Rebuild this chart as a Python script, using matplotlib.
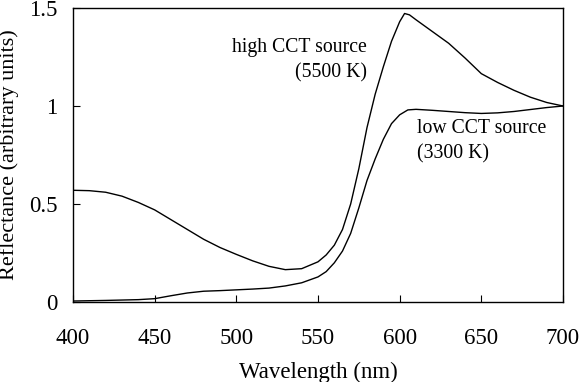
import matplotlib
matplotlib.use("Agg")
import matplotlib.pyplot as plt

plt.rcParams["font.family"] = ["Liberation Serif", "DejaVu Serif"]

# ── Data ──────────────────────────────────────────────────────────────────────
wl_high = [400, 410, 420, 430, 440, 450, 460, 470, 480, 490, 500, 510, 520,
           530, 540, 550, 555, 560, 565, 570, 575, 580, 585, 590, 595, 600,
           603, 606, 610, 620, 630, 640, 650, 660, 670, 680, 690, 700]
refl_high = [0.570, 0.568, 0.560, 0.540, 0.508, 0.470, 0.420, 0.370, 0.320,
             0.278, 0.243, 0.210, 0.182, 0.165, 0.170, 0.205, 0.240, 0.290,
             0.370, 0.500, 0.680, 0.890, 1.060, 1.200, 1.330, 1.430, 1.472,
             1.465, 1.440, 1.380, 1.320, 1.245, 1.165, 1.120, 1.080, 1.045,
             1.018, 1.000]

wl_low = [400, 420, 440, 450, 460, 470, 480, 490, 500, 510, 520, 530, 540,
          550, 555, 560, 565, 570, 575, 580, 585, 590, 595, 600, 605, 610,
          620, 630, 640, 650, 660, 670, 680, 690, 700]
refl_low = [0.005, 0.008, 0.012, 0.017, 0.032, 0.046, 0.055, 0.058, 0.062,
            0.066, 0.071, 0.082, 0.098, 0.128, 0.155, 0.200, 0.260, 0.350,
            0.480, 0.620, 0.730, 0.830, 0.910, 0.955, 0.980, 0.983, 0.978,
            0.972, 0.966, 0.962, 0.965, 0.972, 0.982, 0.992, 1.000]

x_ticks = [400, 450, 500, 550, 600, 650, 700]
y_ticks = [0, 0.5, 1, 1.5]
y_ticklabels = ["0", "0.5", "1", "1.5"]

# ── Figure ────────────────────────────────────────────────────────────────────
fig = plt.figure(figsize=(5.79, 3.82), dpi=100)
ax = fig.add_axes([73 / 579, 1 - 302 / 382, 490 / 579, 294 / 382])

ax.plot(wl_high, refl_high, color="black", lw=1.0)
ax.plot(wl_low, refl_low, color="black", lw=1.0)

ax.set_xlim(400, 700)
ax.set_ylim(0, 1.5)
ax.set_xticks(x_ticks)
ax.set_yticks(y_ticks)
ax.set_yticklabels(y_ticklabels)
ax.tick_params(direction="in", length=5, width=0.8, labelsize=16.5,
               top=False, right=False)
ax.tick_params(axis="x", pad=19)
ax.tick_params(axis="y", pad=11)
for s in ax.spines.values():
    s.set_linewidth(1.0)

ax.set_xlabel("Wavelength (nm)", fontsize=16.5)
ax.xaxis.set_label_coords(0.5, -60 / 294)
ax.set_ylabel("Reflectance (arbitrary units)", fontsize=16)
ax.yaxis.set_label_coords(-54 / 490, 0.5)

ax.text(580, 1.235, "high CCT source\n(5500 K)", fontsize=14.2, ha="right",
        va="center", linespacing=1.45)
ax.text(610.6, 0.82, "low CCT source\n(3300 K)", fontsize=14.2, ha="left",
        va="center", linespacing=1.45)

fig.savefig("out.png", dpi=100)
